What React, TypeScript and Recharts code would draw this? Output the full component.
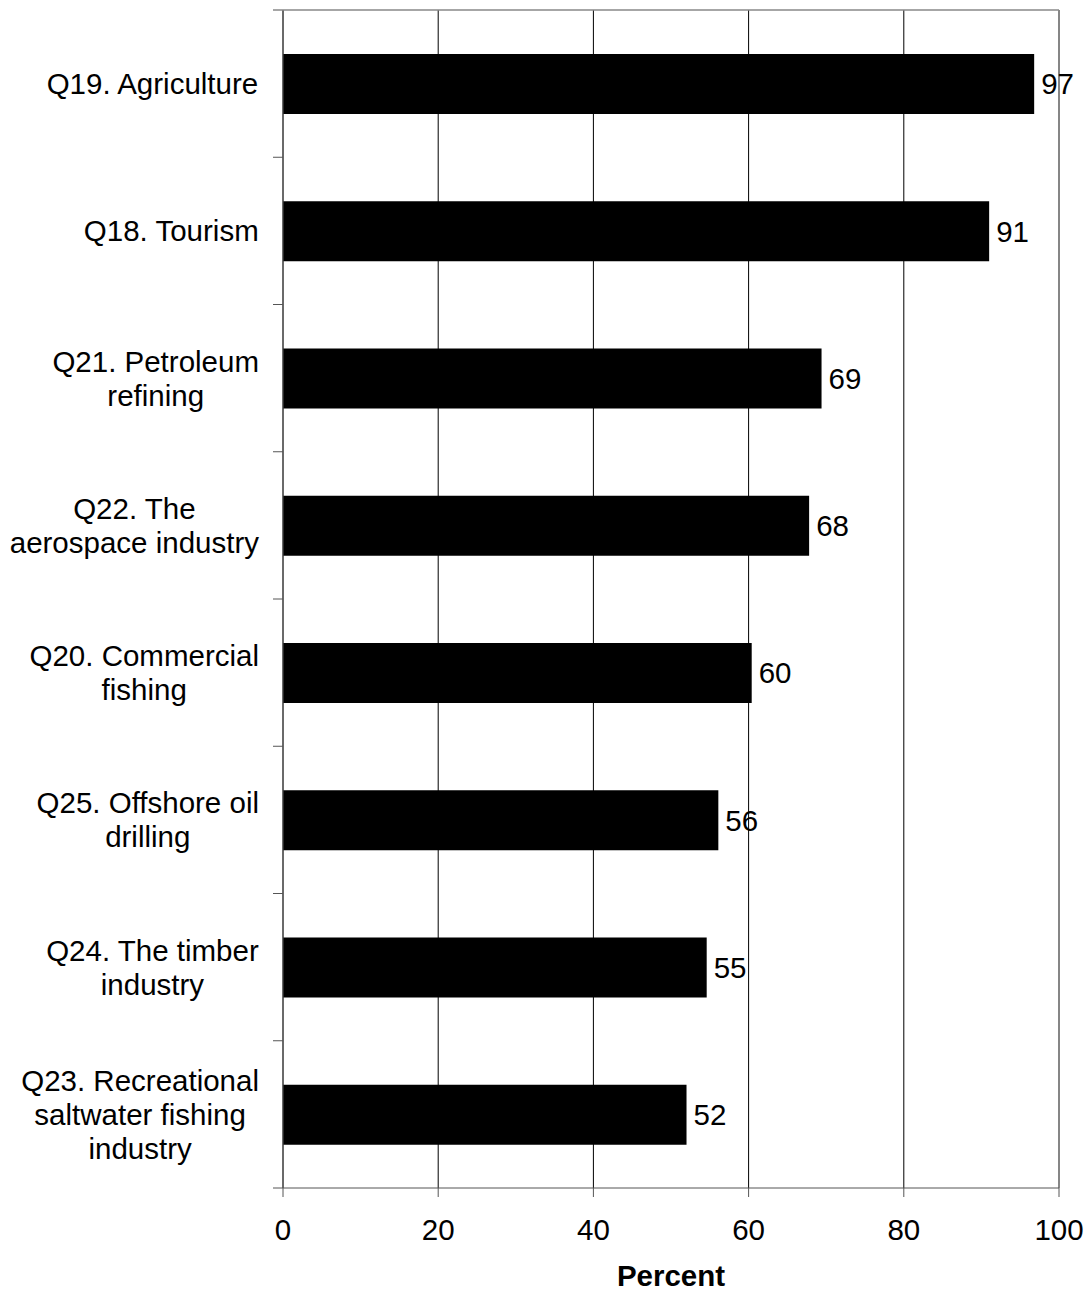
import React from "react";
import {
  BarChart,
  Bar,
  XAxis,
  YAxis,
  CartesianGrid,
  ReferenceLine,
  LabelList,
} from "recharts";

const CATEGORIES = [
  "Q19. Agriculture",
  "Q18. Tourism",
  "Q21. Petroleum\nrefining",
  "Q22. The\naerospace industry",
  "Q20. Commercial\nfishing",
  "Q25. Offshore oil\ndrilling",
  "Q24. The timber\nindustry",
  "Q23. Recreational\nsaltwater fishing\nindustry",
];

const PERCENTS = [96.8, 91.0, 69.4, 67.8, 60.4, 56.1, 54.6, 52.0];

const X_TICKS = [0, 20, 40, 60, 80, 100];

const DATA = CATEGORIES.map((name, i) => ({ name, value: PERCENTS[i] }));

const W = 1088;
const H = 1294;
const MARGIN = { top: 10, right: 29, left: 0, bottom: 0 };
const X_AXIS_H = 106;
const Y_AXIS_W = 283;
const FONT = "'Liberation Sans', Arial, sans-serif";
const FS = 29.5;
const LINE_H = 34;
const BAND = (H - MARGIN.top - MARGIN.bottom - X_AXIS_H) / CATEGORIES.length;
const PLOT_W = W - Y_AXIS_W - MARGIN.left - MARGIN.right;
const TICK_SIZE = 10;
const TICK_MARGIN = 14;

let ctx: CanvasRenderingContext2D | null = null;
const measure = (s: string) => {
  if (!ctx) ctx = document.createElement("canvas").getContext("2d");
  if (!ctx) return s.length * FS * 0.5;
  ctx.font = `${FS}px 'Liberation Sans', Arial, sans-serif`;
  return ctx.measureText(s).width;
};

const CategoryTick = (props: any) => {
  const { x, y, payload, index } = props;
  const lines: string[] = String(payload.value).split("\n");
  const blockW = Math.max(...lines.map(measure));
  const cx = x - blockW / 2;
  const startY = y - ((lines.length - 1) * LINE_H) / 2;
  const tx = x + TICK_MARGIN;
  return (
    <g>
      {index === 0 ? (
        // top border runs from the tick out to the right edge of the plot
        <line
          x1={tx}
          x2={tx + TICK_SIZE + PLOT_W}
          y1={y - BAND / 2}
          y2={y - BAND / 2}
          stroke="#888"
          strokeWidth={1.5}
        />
      ) : (
        <line x1={tx} x2={tx + TICK_SIZE} y1={y - BAND / 2} y2={y - BAND / 2} stroke="#555" />
      )}
      {index === CATEGORIES.length - 1 && (
        <line x1={tx} x2={tx + TICK_SIZE} y1={y + BAND / 2} y2={y + BAND / 2} stroke="#555" />
      )}
      <text textAnchor="middle" fontFamily={FONT} fontSize={FS} fill="#000">
        {lines.map((l, i) => (
          <tspan key={i} x={cx} y={startY + i * LINE_H} dy="0.36em">
            {l}
          </tspan>
        ))}
      </text>
    </g>
  );
};

const App = () => {
  return (
    <div style={{ position: "absolute", left: 0, top: 0, background: "#fff" }}>
      <BarChart
        width={W}
        height={H}
        data={DATA}
        layout="vertical"
        margin={MARGIN}
        barSize={60}
      >
        <CartesianGrid horizontal={false} stroke="#000" strokeOpacity={1} />
        <XAxis
          type="number"
          domain={[0, 100]}
          ticks={X_TICKS}
          height={X_AXIS_H}
          tickSize={9}
          tickMargin={22}
          stroke="#555"
          tick={{ fill: "#000", fontSize: FS, fontFamily: FONT }}
          label={{
            value: "Percent",
            position: "insideBottom",
            offset: 8,
            fill: "#000",
            fontSize: FS,
            fontWeight: "bold",
            fontFamily: FONT,
          }}
        />
        <YAxis
          type="category"
          dataKey="name"
          width={Y_AXIS_W}
          tickSize={TICK_SIZE}
          tickMargin={TICK_MARGIN}
          tickLine={false}
          stroke="#555"
          interval={0}
          tick={<CategoryTick />}
        />
        <ReferenceLine x={100} stroke="#888" strokeWidth={1.5} />
        <Bar dataKey="value" fill="#000" isAnimationActive={false}>
          <LabelList
            dataKey="value"
            position="right"
            offset={7}
            formatter={(v: any) => Math.round(Number(v))}
            fill="#000"
            fontSize={FS}
            fontFamily={FONT}
          />
        </Bar>
      </BarChart>
    </div>
  );
};

export default App;
